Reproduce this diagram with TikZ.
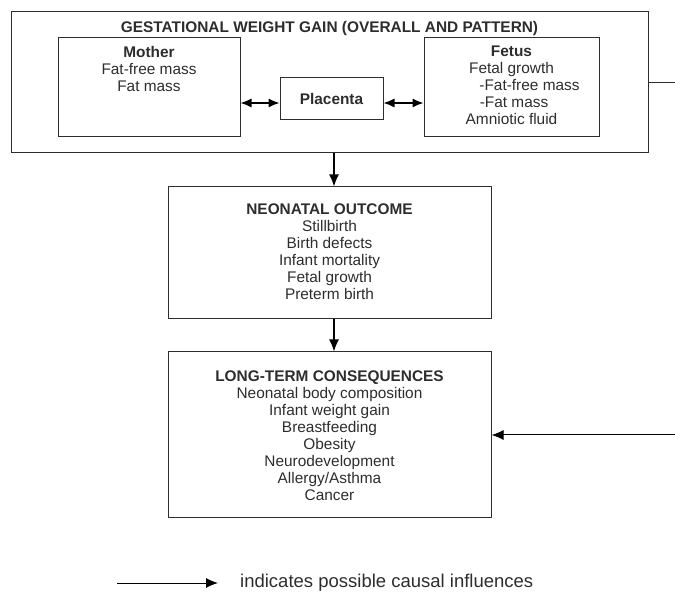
\documentclass[tikz,border=0pt]{standalone}
\usepackage{fontspec}
\setmainfont{Liberation Sans}
\usetikzlibrary{positioning,arrows.meta}
\definecolor{inkgray}{RGB}{45,45,45}
\tikzset{
  box/.style={draw=inkgray,line width=1pt,rectangle,inner sep=0pt},
  txt/.style={inner sep=0pt,align=center,text=inkgray,font=\fontsize{15.4}{17}\selectfont},
  causal/.style={draw=black,line width=1.3pt,-{Latex[length=12pt,width=10pt]}},
  twoway/.style={draw=black,line width=1.3pt,{Latex[length=11pt,width=9pt]}-{Latex[length=11pt,width=9pt]}},
}

\begin{document}
\begin{tikzpicture}[x=1pt,y=-1pt]
  \useasboundingbox (0,0) rectangle (675,593);
  % boxes
  \node[box,minimum width=637pt,minimum height=141pt] (gwg) at (329.5,82.5) {};
  \node[box,minimum width=182pt,minimum height=99pt] (mother) at (149,87.5) {};
  \node[box,minimum width=175pt,minimum height=99pt] (fetus) at (511.5,87.5) {};
  \node[box,minimum width=103pt,minimum height=42pt,txt,font=\fontsize{15.4}{17}\selectfont\bfseries] (placenta) at (331.5,99) {Placenta};
  \node[box,minimum width=323pt,minimum height=132pt] (neonatal) at (329.5,253) {};
  \node[box,minimum width=323pt,minimum height=165pt] (longterm) at (329.5,434.5) {};
  % texts
  \node[txt,below=9.3pt of gwg.north] (gwgtitle) {\textbf{GESTATIONAL WEIGHT GAIN (OVERALL AND PATTERN)}};
  \node[txt,below=8.4pt of mother.north] (mothertext) {\textbf{Mother}\\Fat-free mass\\Fat mass};
  \node[txt,below=8.4pt of fetus.north] (fetustext) {\textbf{Fetus}\\Fetal growth\\\hspace*{36pt}-Fat-free mass\\\hspace*{5pt}-Fat mass\\Amniotic fluid};
  \node[txt,below=17.5pt of neonatal.north] (neonataltext) {\textbf{NEONATAL OUTCOME}\\Stillbirth\\Birth defects\\Infant mortality\\Fetal growth\\Preterm birth};
  \node[txt,below=19.5pt of longterm.north] (longtermtext) {\textbf{LONG-TERM CONSEQUENCES}\\Neonatal body composition\\Infant weight gain\\Breastfeeding\\Obesity\\Neurodevelopment\\Allergy/Asthma\\Cancer};
  % connectors
  \coordinate (arrowlvl) at (0,103);
  \coordinate (mainaxis) at (334,0);
  \draw[twoway] (mother.east |- arrowlvl) -- (placenta.west |- arrowlvl);
  \draw[twoway] (placenta.east |- arrowlvl) -- (fetus.west |- arrowlvl);
  \draw[causal] (gwg.south -| mainaxis) -- (neonatal.north -| mainaxis);
  \draw[causal] (neonatal.south -| mainaxis) -- (longterm.north -| mainaxis);
  \coordinate (rtop) at (675,83);
  \coordinate (rbot) at (675,435);
  \draw[draw=inkgray,line width=1pt] (gwg.east |- rtop) -- (rtop);
  \draw[causal,line width=1pt] (rbot) -- (longterm.east |- rbot);
  % key
  \coordinate (keyA) at (117,583);
  \coordinate (keyB) at (218,583);
  \draw[causal,line width=1pt] (keyA) -- (keyB);
  \node[txt,font=\fontsize{18.5}{20}\selectfont,right=22pt of keyB] (keytext) {indicates possible causal influences};
\end{tikzpicture}
\end{document}
